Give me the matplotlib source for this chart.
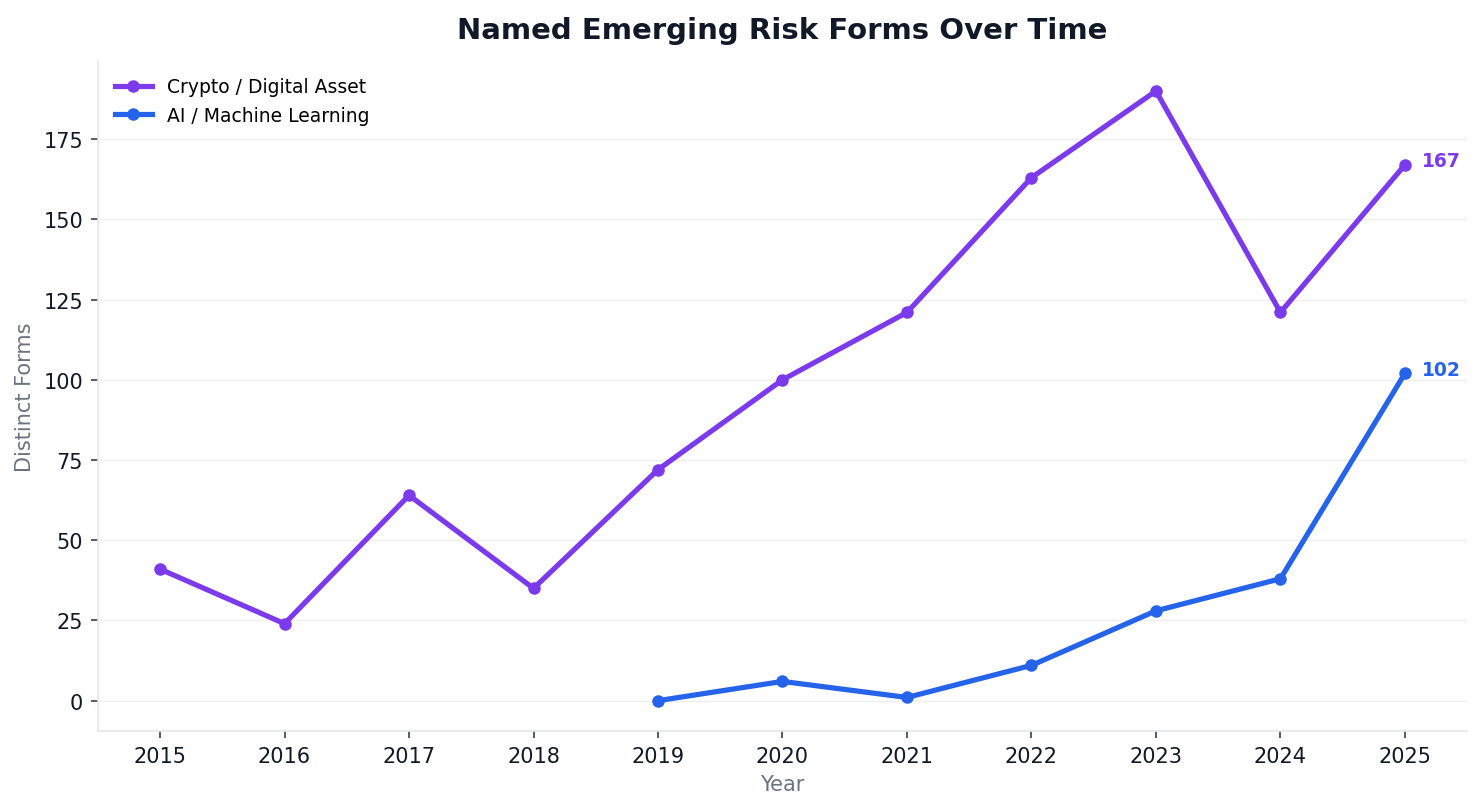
import matplotlib
matplotlib.use("Agg")
import matplotlib.pyplot as plt

years = [2015, 2016, 2017, 2018, 2019, 2020, 2021, 2022, 2023, 2024, 2025]
crypto = [41, 24, 64, 35, 72, 100, 121, 163, 190, 121, 167]
ai_years = [2019, 2020, 2021, 2022, 2023, 2024, 2025]
ai = [0, 6, 1, 11, 28, 38, 102]

PURPLE = "#7c3aed"
BLUE = "#2563eb"

fig, ax = plt.subplots(figsize=(9.88, 5.393), dpi=150)
fig.subplots_adjust(left=0.066, right=0.99, top=0.924, bottom=0.095)

ax.plot(years, crypto, color=PURPLE, lw=2.5, marker="o", ms=5, label="Crypto / Digital Asset")
ax.plot(ai_years, ai, color=BLUE, lw=2.5, marker="o", ms=5, label="AI / Machine Learning")

ax.annotate(str(crypto[-1]), (years[-1], crypto[-1]), xytext=(8, 2), textcoords="offset points",
            color=PURPLE, fontsize=9, fontweight="bold", va="center")
ax.annotate(str(ai[-1]), (ai_years[-1], ai[-1]), xytext=(8, 2), textcoords="offset points",
            color=BLUE, fontsize=9, fontweight="bold", va="center")

ax.set_xlim(2014.5, 2025.5)
ax.set_xticks(years)
ax.set_title("Named Emerging Risk Forms Over Time", fontsize=14, fontweight="bold", color="#111827", pad=11)
ax.set_xlabel("Year", color="#6b7280", fontsize=10)
ax.set_ylabel("Distinct Forms", color="#6b7280", fontsize=10)
ax.tick_params(labelsize=10, labelcolor="#111827", color="#374151")
ax.grid(axis="y", color="#eeeeee", lw=0.6)
ax.set_axisbelow(True)
for s in ["top", "right"]:
    ax.spines[s].set_visible(False)
for s in ["left", "bottom"]:
    ax.spines[s].set_color("#e5e7eb")

ax.legend(loc="upper left", frameon=False, fontsize=9)

fig.savefig("out.png", dpi=150)
